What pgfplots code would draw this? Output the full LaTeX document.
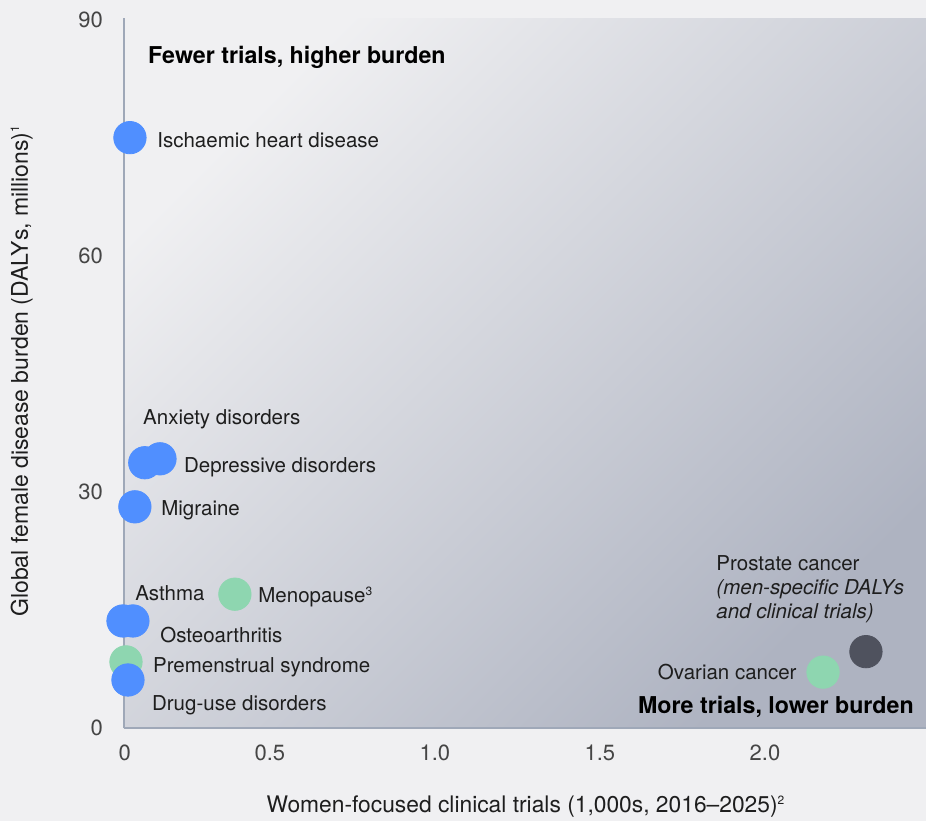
\documentclass[border=0pt]{standalone}
\usepackage{fontspec}
\setmainfont{TeX Gyre Heros}
\usepackage{pgfplots}
\pgfplotsset{compat=1.18}
\usetikzlibrary{backgrounds,calc}
\definecolor{figbg}{HTML}{F0F0F2}
\definecolor{plottl}{HTML}{F0F0F2}
\definecolor{plotbr}{HTML}{AEB3C1}
\definecolor{axline}{HTML}{9FA8B8}
\definecolor{ptblue}{HTML}{508FFF}
\definecolor{ptgreen}{HTML}{8ED6B0}
\definecolor{ptdark}{HTML}{4F525E}
\definecolor{txt}{HTML}{1E1E1E}
\definecolor{ticktxt}{HTML}{454545}
\begin{document}
\begin{tikzpicture}
\begin{axis}[
  scale only axis,
  width=401pt, height=355pt,
  xmin=0.058, xmax=2.488,
  ymin=0, ymax=90.2,
  axis x line*=bottom, axis y line*=left,
  axis line style={draw=axline, line width=0.9pt},
  axis background/.style={shading=axis, top color=plottl, bottom color=plotbr, shading angle=45},
  major tick length=0pt,
  xtick={0.06,0.5,1,1.5,2},
  xticklabels={0,0.5,1.0,1.5,2.0},
  ytick={0,30,60,90},
  yticklabels={0,30,60,90},
  /pgf/number format/assume math mode=true,
  tick label style={font=\fontsize{11}{13}\selectfont, text=ticktxt},
  xticklabel style={yshift=-5pt},
  yticklabel style={xshift=-7pt},
  clip=false,
]
\addplot[only marks, mark=*, mark size=8.1pt, color=ptgreen] coordinates {
  (0.064,8.4) (0.394,17.0) (2.176,7.1)
};
\addplot[only marks, mark=*, mark size=8.1pt, color=ptblue] coordinates {
  (0.076,75.0) (0.167,34.2) (0.121,33.7) (0.091,28.1)
  (0.085,13.6) (0.055,13.6) (0.070,6.1)
};
\addplot[only marks, mark=*, mark size=8.1pt, color=ptdark] coordinates {
  (2.306,9.7)
};
\coordinate (SW) at (rel axis cs:0,0);
\coordinate (NE) at (rel axis cs:1,1);
\begin{scope}[every node/.style={font=\fontsize{10.25}{12}\selectfont, text=txt, inner sep=0pt, yshift=-1.3pt}]
\node[anchor=west] at (axis cs:0.158,75.0) {Ischaemic heart disease};
\node[anchor=west] at (axis cs:0.115,39.6) {Anxiety disorders};
\node[anchor=west] at (axis cs:0.239,33.4) {Depressive disorders};
\node[anchor=west] at (axis cs:0.170,28.0) {Migraine};
\node[anchor=west] at (axis cs:0.091,17.5) {Asthma};
\node[anchor=west] at (axis cs:0.464,17.0) {Menopause\textsuperscript{\fontsize{6}{6}\selectfont 3}};
\node[anchor=west] at (axis cs:0.167,12.2) {Osteoarthritis};
\node[anchor=west] at (axis cs:0.145,8.1) {Premenstrual syndrome};
\node[anchor=west] at (axis cs:0.142,3.2) {Drug-use disorders};
\node[anchor=east] at (axis cs:2.097,7.5) {Ovarian cancer};
\node[anchor=west, align=left] at (axis cs:1.852,17.9) {Prostate cancer\\\itshape (men-specific DALYs\\\itshape and clinical trials)};
\node[anchor=west, font=\fontsize{11.6}{13}\selectfont\bfseries, text=black, yshift=-1.5pt] at (axis cs:0.130,85.9) {Fewer trials, higher burden};
\node[anchor=east, font=\fontsize{11.6}{13}\selectfont\bfseries, text=black] at (axis cs:2.452,3.05) {More trials, lower burden};
\end{scope}
\node[rotate=90, font=\fontsize{11.5}{13}\selectfont, text=txt, inner sep=0pt] at (axis cs:-0.252,45.4) {Global female disease burden (DALYs, millions)\textsuperscript{\fontsize{6}{6}\selectfont 1}};
\node[font=\fontsize{11.4}{13}\selectfont, text=txt, inner sep=0pt, yshift=-1pt] at (axis cs:1.276,-9.78) {Women-focused clinical trials (1,000s, 2016--2025)\textsuperscript{\fontsize{6}{6}\selectfont 2}};
\end{axis}
\begin{scope}[on background layer]
\fill[figbg] ($(SW)+(-62pt,-46.5pt)$) rectangle ($(NE)+(0,9pt)$);
\end{scope}
\pgfresetboundingbox
\path ($(SW)+(-62pt,-46.5pt)$) rectangle ($(NE)+(0,9pt)$);
\end{tikzpicture}
\end{document}
